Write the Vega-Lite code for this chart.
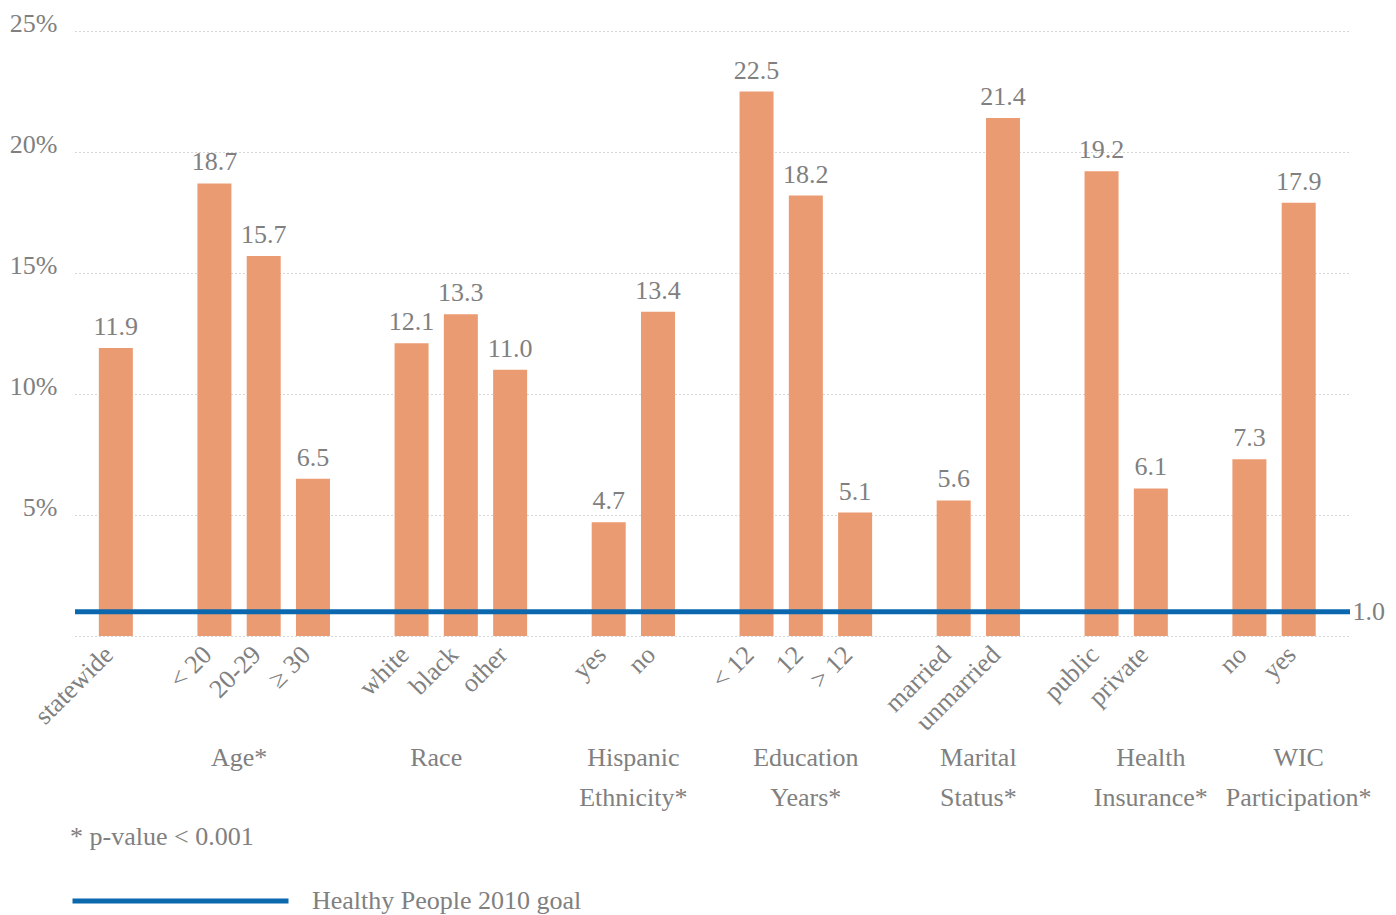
{
  "$schema": "https://vega.github.io/schema/vega-lite/v6.json",
  "width": 1275,
  "height": 605,
  "autosize": {"type": "none"},
  "padding": {"left": 75, "top": 31, "right": 46, "bottom": 279},
  "background": "white",
  "config": {
    "font": "Liberation Serif",
    "view": {"stroke": null},
    "text": {"font": "Liberation Serif", "fontSize": 26, "fill": "#808080"}
  },
  "datasets": {
    "bars": [
      {"id": "Statewide|statewide", "value": 11.9},
      {"id": "Age|< 20", "value": 18.7},
      {"id": "Age|20-29", "value": 15.7},
      {"id": "Age|≥ 30", "value": 6.5},
      {"id": "Race|white", "value": 12.1},
      {"id": "Race|black", "value": 13.3},
      {"id": "Race|other", "value": 11.0},
      {"id": "Hispanic|yes", "value": 4.7},
      {"id": "Hispanic|no", "value": 13.4},
      {"id": "Education|< 12", "value": 22.5},
      {"id": "Education|12", "value": 18.2},
      {"id": "Education|> 12", "value": 5.1},
      {"id": "Marital|married", "value": 5.6},
      {"id": "Marital|unmarried", "value": 21.4},
      {"id": "Health|public", "value": 19.2},
      {"id": "Health|private", "value": 6.1},
      {"id": "WIC|no", "value": 7.3},
      {"id": "WIC|yes", "value": 17.9}
    ],
    "groupsBetween": [
      {"group": "Age*", "anchor": "Age|< 20"},
      {"group": "Race", "anchor": "Race|white"},
      {"group": "Hispanic\nEthnicity*", "anchor": "Hispanic|yes"},
      {"group": "Marital\nStatus*", "anchor": "Marital|married"}
    ],
    "groupsOn": [
      {"group": "Education\nYears*", "anchor": "Education|12"},
      {"group": "Health\nInsurance*", "anchor": "Health|private"},
      {"group": "WIC\nParticipation*", "anchor": "WIC|yes"}
    ],
    "goal": [
      {"goal": 1.0, "name": "Healthy People 2010 goal"}
    ]
  },
  "resolve": {"axis": {"y": "independent"}},
  "layer": [
    {
      "data": {"name": "bars"},
      "mark": {"type": "bar", "color": "#EB9B72"},
      "encoding": {
        "x": {
          "field": "id",
          "type": "nominal",
          "sort": null,
          "scale": {
            "type": "band",
            "domain": ["Statewide|statewide", "s1", "Age|< 20", "Age|20-29", "Age|≥ 30", "s2", "Race|white", "Race|black", "Race|other", "s3", "Hispanic|yes", "Hispanic|no", "s4", "Education|< 12", "Education|12", "Education|> 12", "s5", "Marital|married", "Marital|unmarried", "s6", "Health|public", "Health|private", "s7", "WIC|no", "WIC|yes"],
            "paddingInner": 0.31,
            "paddingOuter": 0.59,
            "align": 0.41
          },
          "axis": {
            "title": null,
            "domain": false,
            "ticks": false,
            "grid": false,
            "labelAngle": -45,
            "labelPadding": 5,
            "labelOffset": -16,
            "labelFont": "Liberation Serif",
            "labelFontSize": 26,
            "labelColor": "#808080",
            "labelLimit": 300,
            "labelOverlap": false,
            "labelExpr": "indexof(datum.label, '|') < 0 ? '' : substring(datum.label, indexof(datum.label, '|') + 1)"
          }
        },
        "y": {
          "field": "value",
          "type": "quantitative",
          "scale": {"domain": [0, 25], "nice": false},
          "axis": {
            "title": null,
            "orient": "left",
            "values": [0, 5, 10, 15, 20, 25],
            "labelExpr": "datum.value == 0 ? '' : datum.value + '%'",
            "domain": false,
            "ticks": false,
            "grid": true,
            "gridDash": [1, 3],
            "gridColor": "#aaaaaa",
            "gridWidth": 1,
            "labelPadding": 18,
            "labelBaseline": "alphabetic",
            "labelFont": "Liberation Serif",
            "labelFontSize": 26,
            "labelColor": "#808080"
          }
        }
      }
    },
    {
      "data": {"name": "bars"},
      "mark": {"type": "text", "baseline": "alphabetic", "align": "center", "dy": -13},
      "encoding": {
        "x": {"field": "id", "type": "nominal"},
        "y": {"field": "value", "type": "quantitative", "axis": null},
        "text": {"field": "value", "type": "quantitative", "format": ".1f"}
      }
    },
    {
      "data": {"name": "groupsBetween"},
      "mark": {"type": "text", "baseline": "alphabetic", "align": "center", "lineBreak": "\n", "lineHeight": 40, "y": {"expr": "height"}, "dy": 130},
      "encoding": {
        "x": {"field": "anchor", "type": "nominal", "bandPosition": 1.225},
        "text": {"field": "group"}
      }
    },
    {
      "data": {"name": "groupsOn"},
      "mark": {"type": "text", "baseline": "alphabetic", "align": "center", "lineBreak": "\n", "lineHeight": 40, "y": {"expr": "height"}, "dy": 130},
      "encoding": {
        "x": {"field": "anchor", "type": "nominal"},
        "text": {"field": "group"}
      }
    },
    {
      "data": {"name": "goal"},
      "mark": {"type": "rule", "strokeWidth": 5},
      "encoding": {
        "y": {
          "field": "goal",
          "type": "quantitative",
          "axis": {
            "title": null,
            "orient": "right",
            "values": [1],
            "format": ".1f",
            "domain": false,
            "ticks": false,
            "grid": false,
            "labelPadding": 2,
            "labelBaseline": "middle",
            "labelFont": "Liberation Serif",
            "labelFontSize": 26,
            "labelColor": "#808080"
          }
        },
        "stroke": {
          "field": "name",
          "type": "nominal",
          "scale": {"range": ["#0B68AF"]},
          "legend": {
            "title": "* p-value < 0.001",
            "orient": "none",
            "legendX": -5,
            "legendY": 793,
            "titleFont": "Liberation Serif",
            "titleFontSize": 26,
            "titleFontWeight": "normal",
            "titleColor": "#808080",
            "titlePadding": 35,
            "titleLimit": 0,
            "symbolType": "M-1,0H15",
            "symbolSize": 729,
            "symbolStrokeWidth": 5,
            "symbolFillColor": "transparent",
            "labelFont": "Liberation Serif",
            "labelFontSize": 26,
            "labelColor": "#808080",
            "labelOffset": 210,
            "labelLimit": 0
          }
        }
      }
    }
  ]
}
